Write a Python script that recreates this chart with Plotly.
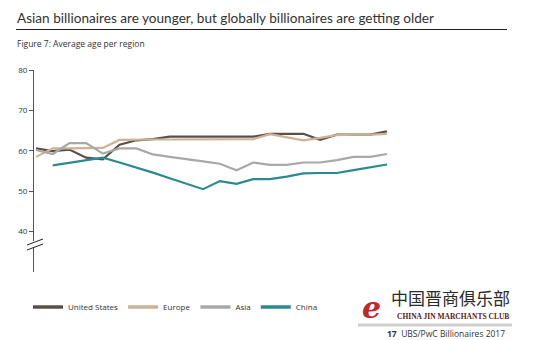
import plotly.graph_objects as go

# ---- data ----
years = list(range(1995, 2017))  # 22 yearly points as drawn
us = [60.6, 59.9, 60.3, 58.3, 57.9, 61.5, 62.6, 62.9, 63.5, 63.5, 63.5,
      63.5, 63.5, 63.5, 64.2, 64.2, 64.2, 62.7, 64.0, 64.0, 64.0, 64.8]
europe = [58.5, 60.6, 60.6, 60.6, 60.7, 62.7, 62.8, 62.8, 62.8, 62.8, 62.8,
          62.8, 62.9, 62.9, 64.1, 63.4, 62.6, 63.2, 63.9, 64.0, 64.0, 64.2]
asia = [60.2, 59.2, 61.9, 61.9, 59.3, 60.6, 60.6, 59.1, 58.5, 58.0, 57.4,
        56.8, 55.2, 57.1, 56.5, 56.5, 57.1, 57.1, 57.7, 58.5, 58.5, 59.2]
china = [None, 56.4, 57.0, 57.7, 58.3, 57.1, 55.9, 54.6, 53.2, 51.9, 50.5,
         52.5, 51.8, 53.0, 53.0, 53.6, 54.4, 54.5, 54.5, 55.2, 55.9, 56.6]

tick_years = [1995, 1998, 2001, 2004, 2007, 2010, 2013, 2016]
tick_text = ["1995", "1998", "2001", "2004", "2007", "2010", "2013",
             "<span style='color:#b5b5b5'>2016</span>"]
y_ticks = [40, 50, 60, 70, 80]

series = [
    ("United States", us, "#5b5049"),
    ("Europe", europe, "#cdb296"),
    ("Asia", asia, "#a8a8a8"),
    ("China", china, "#2b8a8f"),
]

FONT = "Open Sans"
fig = go.Figure()
for name, vals, col in series:
    fig.add_trace(go.Scatter(x=years, y=vals, name=name, mode="lines",
                             line=dict(color=col, width=2.2),
                             xaxis="x2", yaxis="y", showlegend=False))
    # legend swatch entries (thicker, like the reference key)
    fig.add_trace(go.Scatter(x=[None], y=[None], name=name, mode="lines",
                             line=dict(color=col, width=3.5),
                             xaxis="x2", yaxis="y", showlegend=True))

W, H = 537, 340
L, R, T, B = 34, 132, 70, 68
pw = W - L - R
ph = H - T - B


def px(xp):
    return (xp - L) / pw


def py(yp):
    return (H - B - yp) / ph


fig.update_layout(
    width=W, height=H,
    margin=dict(l=L, r=R, t=T, b=B, pad=0),
    paper_bgcolor="white", plot_bgcolor="white",
    font=dict(family=FONT, color="#333333", size=8),
    xaxis=dict(range=[1994.32, 2016.01], tickvals=tick_years, ticktext=tick_text,
               showgrid=False, zeroline=False, showline=True, linecolor="#555555",
               linewidth=1, ticks="outside", ticklen=5, tickcolor="#555555",
               tickfont=dict(size=8, color="#333333")),
    xaxis2=dict(range=[1994.88, 2017.08], overlaying="x", visible=False,
                showgrid=False, zeroline=False),
    yaxis=dict(range=[30, 80], tickvals=y_ticks, showgrid=False, zeroline=False,
               showline=True, linecolor="#555555", linewidth=1, ticks="outside",
               ticklen=4, tickcolor="#555555", tickfont=dict(size=8, color="#333333")),
    legend=dict(orientation="h", x=px(28), y=py(307), xanchor="left", yanchor="middle",
                font=dict(size=8, color="#333333"), itemwidth=30,
                bgcolor="rgba(0,0,0,0)", tracegroupgap=0),
    showlegend=True,
)

# title and subtitle
fig.add_annotation(text="Asian billionaires are younger, but globally billionaires are getting older",
                   xref="paper", yref="paper", x=px(15), y=py(18), xanchor="left",
                   yanchor="middle", showarrow=False,
                   font=dict(family="Lato", size=13.6, color="#333333"))
fig.add_annotation(text="Figure 7: Average age per region",
                   xref="paper", yref="paper", x=px(15), y=py(43), xanchor="left",
                   yanchor="middle", showarrow=False,
                   font=dict(family=FONT, size=8.5, color="#333333"))
fig.add_shape(type="line", xref="paper", yref="paper", x0=px(16), x1=px(507),
              y0=py(29.5), y1=py(29.5), line=dict(color="#222222", width=1))

# axis break marks
fig.add_shape(type="line", xref="paper", yref="paper", x0=px(34), x1=px(34),
              y0=py(241), y1=py(248), line=dict(color="white", width=3))
for yy in (0, 5):
    fig.add_shape(type="line", xref="paper", yref="paper", x0=px(27), x1=px(43),
                  y0=py(245 + yy), y1=py(239 + yy), line=dict(color="#222222", width=1))

# logo / footer
fig.add_annotation(text="<i><b>e</b></i>", xref="paper", yref="paper", x=px(371), y=py(307),
                   xanchor="center", yanchor="middle", showarrow=False,
                   font=dict(family="DejaVu Serif", size=30, color="#c0282d"))
fig.add_annotation(text="中国晋商俱乐部", xref="paper", yref="paper", x=px(512), y=py(297),
                   xanchor="right", yanchor="middle", showarrow=False,
                   font=dict(family="Noto Sans CJK SC", size=17, color="#2a2a2a"))
fig.add_annotation(text="<b>CHINA JIN MARCHANTS CLUB</b>", xref="paper", yref="paper",
                   x=px(511), y=py(316), xanchor="right", yanchor="middle", showarrow=False,
                   font=dict(family="Liberation Serif", size=7.5, color="#5a2020"))
fig.add_shape(type="line", xref="paper", yref="paper", x0=px(358), x1=px(512),
              y0=py(325), y1=py(325), line=dict(color="#cfcfcf", width=3))
fig.add_annotation(text="<b>17</b>  UBS/PwC Billionaires 2017", xref="paper", yref="paper",
                   x=px(507), y=py(333), xanchor="right", yanchor="middle", showarrow=False,
                   font=dict(family=FONT, size=8.5, color="#333333"))

fig.write_html("out.html")
